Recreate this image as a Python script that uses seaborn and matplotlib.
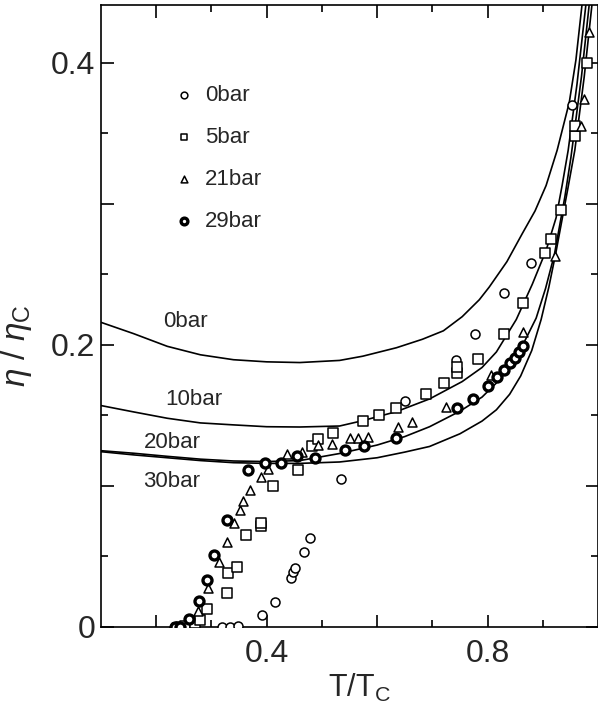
import numpy as np
import pandas as pd
import matplotlib
matplotlib.use("Agg")
import matplotlib.pyplot as plt
import seaborn as sns

# theory curves (T/Tc, eta/eta_c)
t_0bar = [0.100, 0.159, 0.220, 0.280, 0.340, 0.400, 0.460, 0.532, 0.574, 0.635, 0.682,
          0.720, 0.754, 0.785, 0.803, 0.835, 0.863, 0.886, 0.906, 0.926, 0.948, 0.960, 0.971]
v_0bar = [0.216, 0.208, 0.199, 0.193, 0.1895, 0.188, 0.1875, 0.189, 0.192, 0.198, 0.204,
          0.210, 0.220, 0.232, 0.241, 0.259, 0.279, 0.295, 0.313, 0.338, 0.372, 0.402, 0.441]

t_10bar = [0.100, 0.159, 0.220, 0.280, 0.340, 0.400, 0.460, 0.532, 0.574, 0.635, 0.695,
           0.754, 0.790, 0.816, 0.852, 0.881, 0.906, 0.924, 0.935, 0.946, 0.962, 0.978]
v_10bar = [0.157, 0.1525, 0.148, 0.1447, 0.1433, 0.142, 0.1418, 0.1425, 0.1463, 0.1527, 0.1617,
           0.174, 0.184, 0.195, 0.218, 0.243, 0.267, 0.290, 0.313, 0.338, 0.385, 0.441]

t_20bar = [0.100, 0.159, 0.220, 0.280, 0.340, 0.400, 0.460, 0.532, 0.600, 0.650, 0.695,
           0.750, 0.790, 0.816, 0.840, 0.860, 0.888, 0.905, 0.921, 0.940, 0.951, 0.970, 0.984]
v_20bar = [0.125, 0.1232, 0.121, 0.119, 0.1177, 0.1173, 0.118, 0.123, 0.129, 0.135, 0.142,
           0.153, 0.163, 0.173, 0.184, 0.197, 0.219, 0.240, 0.264, 0.305, 0.333, 0.390, 0.441]

t_30bar = [0.100, 0.160, 0.220, 0.280, 0.340, 0.400, 0.460, 0.532, 0.600, 0.650, 0.695,
           0.750, 0.790, 0.816, 0.840, 0.860, 0.880, 0.897, 0.911, 0.924, 0.945, 0.958, 0.975, 0.989]
v_30bar = [0.1243, 0.122, 0.120, 0.118, 0.1165, 0.116, 0.116, 0.117, 0.120, 0.124, 0.128,
           0.137, 0.146, 0.154, 0.165, 0.178, 0.196, 0.218, 0.241, 0.266, 0.310, 0.338, 0.390, 0.441]

# measured points
t_p0 = [0.319, 0.334, 0.348, 0.391, 0.415, 0.444, 0.448, 0.451, 0.467, 0.478, 0.534,
        0.650, 0.742, 0.777, 0.830, 0.879, 0.953]
v_p0 = [0.0, 0.0, 0.001, 0.0085, 0.018, 0.035, 0.039, 0.042, 0.053, 0.063, 0.105,
        0.160, 0.189, 0.208, 0.237, 0.258, 0.370]

t_p5 = [0.244, 0.252, 0.270, 0.280, 0.292, 0.328, 0.330, 0.346, 0.363, 0.390, 0.390,
        0.411, 0.457, 0.482, 0.493, 0.520, 0.574, 0.603, 0.635, 0.689, 0.722, 0.745,
        0.745, 0.783, 0.830, 0.865, 0.904, 0.915, 0.933, 0.959, 0.959, 0.980]
v_p5 = [0.0, 0.001, 0.003, 0.005, 0.013, 0.024, 0.038, 0.0426, 0.065, 0.0716, 0.074,
        0.100, 0.111, 0.128, 0.133, 0.1376, 0.146, 0.150, 0.155, 0.165, 0.173, 0.180,
        0.184, 0.190, 0.208, 0.230, 0.265, 0.275, 0.296, 0.348, 0.355, 0.400]

t_p21 = [0.229, 0.238, 0.275, 0.294, 0.314, 0.328, 0.341, 0.352, 0.357, 0.370, 0.390,
         0.402, 0.437, 0.464, 0.493, 0.518, 0.550, 0.565, 0.583, 0.637, 0.664, 0.725,
         0.807, 0.865, 0.922, 0.969, 0.975, 0.984]
v_p21 = [0.0, 0.0, 0.011, 0.028, 0.046, 0.060, 0.074, 0.083, 0.089, 0.097, 0.106,
         0.112, 0.123, 0.124, 0.129, 0.130, 0.134, 0.134, 0.135, 0.142, 0.145, 0.156,
         0.179, 0.209, 0.263, 0.355, 0.374, 0.422]

t_p29 = [0.234, 0.243, 0.260, 0.278, 0.292, 0.305, 0.328, 0.366, 0.397, 0.426, 0.455,
         0.487, 0.541, 0.576, 0.634, 0.745, 0.774, 0.800, 0.818, 0.829, 0.840, 0.849,
         0.857, 0.865]
v_p29 = [0.0, 0.0, 0.006, 0.0185, 0.033, 0.051, 0.076, 0.111, 0.116, 0.116, 0.121,
         0.120, 0.1255, 0.128, 0.134, 0.155, 0.162, 0.171, 0.177, 0.182, 0.187, 0.191,
         0.195, 0.199]

curve_names = ["0bar", "10bar", "20bar", "30bar"]
curve_label_pos = [(0.213, 0.2163), (0.216, 0.161), (0.177, 0.1305), (0.177, 0.103)]

sns.set_theme(style="ticks")
plt.rcParams["font.family"] = ["Liberation Sans", "DejaVu Sans"]
plt.rcParams["mathtext.fontset"] = "custom"
plt.rcParams["mathtext.rm"] = "Liberation Sans"
plt.rcParams["mathtext.it"] = "Liberation Sans:italic"

fig = plt.figure(figsize=(5.98, 7.09), dpi=100)
ax = fig.add_axes([101 / 598, 82 / 709, 497 / 598, 622 / 709])

curves = pd.concat([
    pd.DataFrame({"T": t_0bar, "eta": v_0bar, "P": "0bar"}),
    pd.DataFrame({"T": t_10bar, "eta": v_10bar, "P": "10bar"}),
    pd.DataFrame({"T": t_20bar, "eta": v_20bar, "P": "20bar"}),
    pd.DataFrame({"T": t_30bar, "eta": v_30bar, "P": "30bar"}),
])
sns.lineplot(data=curves, x="T", y="eta", units="P", estimator=None, sort=False,
             color="black", lw=1.2, ax=ax, legend=False)

ms = 42
sns.scatterplot(x=t_p0, y=v_p0, marker="o", s=ms, facecolor="white",
                edgecolor="black", linewidth=1.1, ax=ax, label="0bar", zorder=3)
sns.scatterplot(x=t_p5, y=v_p5, marker="s", s=ms, facecolor="white",
                edgecolor="black", linewidth=1.1, ax=ax, label="5bar", zorder=3)
sns.scatterplot(x=t_p21, y=v_p21, marker="^", s=ms, facecolor="white",
                edgecolor="black", linewidth=1.1, ax=ax, label="21bar", zorder=3)
sns.scatterplot(x=t_p29, y=v_p29, marker="o", s=ms, facecolor="white",
                edgecolor="black", linewidth=2.4, ax=ax, label="29bar", zorder=3)

for name, (tx, ty) in zip(curve_names, curve_label_pos):
    ax.text(tx, ty, name, fontsize=16, ha="left", va="center")

leg = ax.legend(loc="upper left", bbox_to_anchor=(0.149, 0.872), frameon=False,
                fontsize=16, markerscale=0.75, handlelength=0.8, handletextpad=0.55,
                labelspacing=0.95, borderpad=0, borderaxespad=0)

ax.set_xlim(0.1, 1.0)
ax.set_ylim(0, 0.441)
ax.set_xticks([0.2, 0.4, 0.6, 0.8])
ax.set_xticklabels(["", "0.4", "", "0.8"])
ax.set_xticks([0.3, 0.5, 0.7, 0.9], minor=True)
ax.set_yticks([0.0, 0.1, 0.2, 0.3, 0.4])
ax.set_yticklabels(["0", "", "0.2", "", "0.4"])
ax.set_yticks([0.05, 0.15, 0.25, 0.35], minor=True)
ax.tick_params(which="both", direction="in", top=True, right=True, width=1.2,
               labelsize=23, color="black")
ax.tick_params(which="major", length=9)
ax.tick_params(which="minor", length=5)
ax.tick_params(axis="x", pad=9)
ax.tick_params(axis="y", pad=4)
for sp in ax.spines.values():
    sp.set_linewidth(1.2)
    sp.set_color("black")

ax.set_xlabel(r"T/T$_{\rm C}$", fontsize=22)
ax.set_ylabel(r"$\eta\ /\ \eta_{\rm C}$", fontsize=24)
ax.yaxis.set_label_coords(-0.135, 0.453)
ax.xaxis.set_label_coords(0.52, -0.072)

fig.savefig("out.png", dpi=100)
